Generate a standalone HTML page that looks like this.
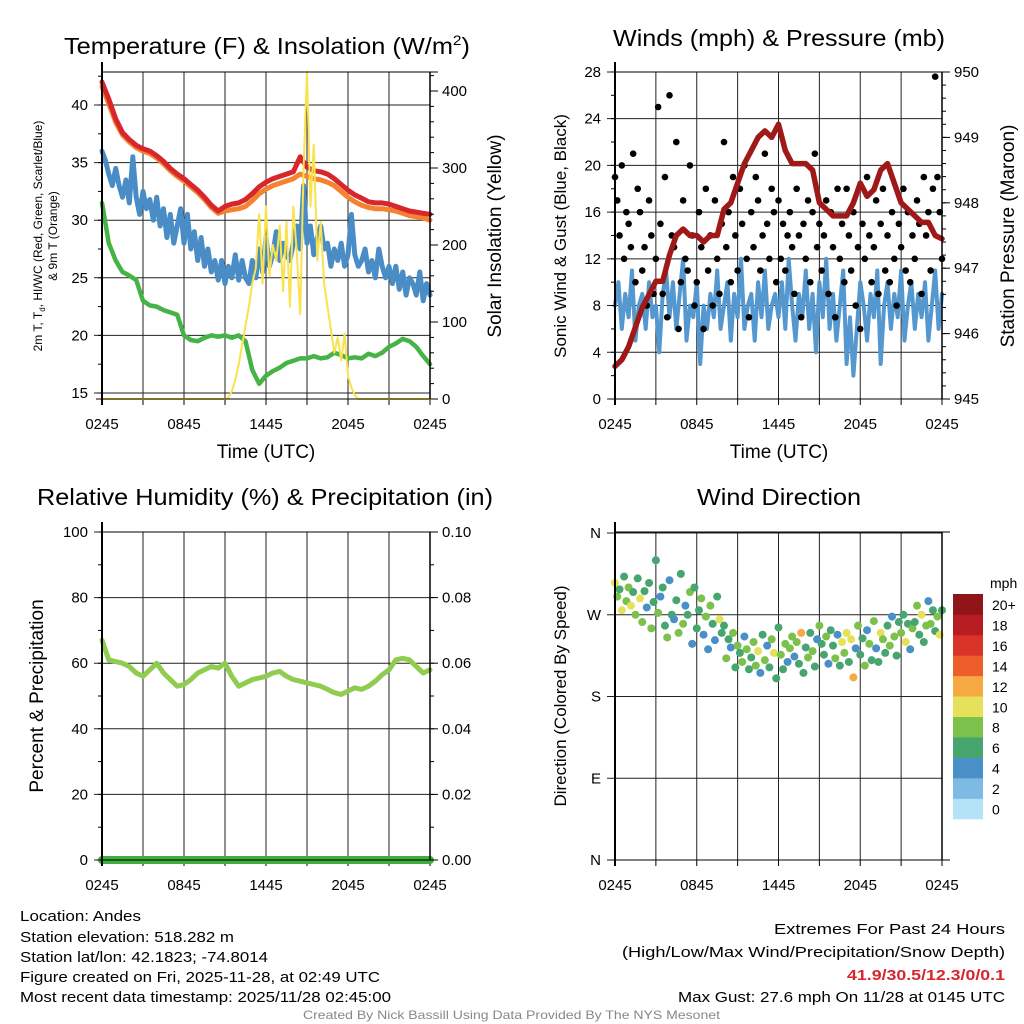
<!DOCTYPE html>
<html><head><meta charset="utf-8"><style>
html,body{margin:0;padding:0;background:#fff;}
svg{display:block;font-family:"Liberation Sans",Arial,sans-serif;}
</style></head><body>
<svg id="chart" width="1024" height="1024" viewBox="0 0 1024 1024" xmlns="http://www.w3.org/2000/svg">
<rect x="0" y="0" width="1024" height="1024" fill="#fff"/>
<g id="grids"></g>
<g id="series"></g>
<g id="axes"></g>
<g id="labels" fill="#000">
<text x="64" y="54" font-size="23" textLength="406" lengthAdjust="spacingAndGlyphs">Temperature (F) &amp; Insolation (W/m<tspan font-size="14" dy="-9">2</tspan><tspan dy="9">)</tspan></text>
<text x="613" y="46" font-size="23" textLength="332" lengthAdjust="spacingAndGlyphs">Winds (mph) &amp; Pressure (mb)</text>
<text x="37" y="505" font-size="23" textLength="456" lengthAdjust="spacingAndGlyphs">Relative Humidity (%) &amp; Precipitation (in)</text>
<text x="697" y="505" font-size="23" textLength="164" lengthAdjust="spacingAndGlyphs">Wind Direction</text>
<text x="266" y="458" font-size="19" text-anchor="middle">Time (UTC)</text>
<text x="779" y="458" font-size="19" text-anchor="middle">Time (UTC)</text>
<text font-size="12" text-anchor="middle" transform="translate(42,236) rotate(-90)">2m T, T<tspan font-size="8" dy="3">d</tspan><tspan dy="-3">, HI/WC (Red, Green, Scarlet/Blue)</tspan></text>
<text font-size="12" text-anchor="middle" transform="translate(57,236) rotate(-90)">&amp; 9m T (Orange)</text>
<text font-size="19" text-anchor="middle" transform="translate(501,236) rotate(-90)">Solar Insolation (Yellow)</text>
<text font-size="17" text-anchor="middle" transform="translate(566,236) rotate(-90)">Sonic Wind &amp; Gust (Blue, Black)</text>
<text font-size="19" text-anchor="middle" transform="translate(1014,236) rotate(-90)">Station Pressure (Maroon)</text>
<text font-size="19" text-anchor="middle" transform="translate(43,696) rotate(-90)">Percent &amp; Precipitation</text>
<text font-size="17" text-anchor="middle" transform="translate(566,696) rotate(-90)">Direction (Colored By Speed)</text>
<text x="990" y="588" font-size="14">mph</text>
<g font-size="15">
<text x="20" y="921" textLength="121" lengthAdjust="spacingAndGlyphs">Location: Andes</text>
<text x="20" y="942" textLength="214" lengthAdjust="spacingAndGlyphs">Station elevation: 518.282 m</text>
<text x="20" y="962" textLength="248" lengthAdjust="spacingAndGlyphs">Station lat/lon: 42.1823; -74.8014</text>
<text x="20" y="982" textLength="360" lengthAdjust="spacingAndGlyphs">Figure created on Fri, 2025-11-28, at 02:49 UTC</text>
<text x="20" y="1002" textLength="371" lengthAdjust="spacingAndGlyphs">Most recent data timestamp: 2025/11/28 02:45:00</text>
</g>
<g font-size="15">
<text x="774" y="934" textLength="231" lengthAdjust="spacingAndGlyphs">Extremes For Past 24 Hours</text>
<text x="622" y="957" textLength="383" lengthAdjust="spacingAndGlyphs">(High/Low/Max Wind/Precipitation/Snow Depth)</text>
<text x="847" y="980" textLength="158" lengthAdjust="spacingAndGlyphs" fill="#d7262c" font-weight="bold">41.9/30.5/12.3/0/0.1</text>
<text x="678" y="1002" textLength="327" lengthAdjust="spacingAndGlyphs">Max Gust: 27.6 mph On 11/28 at 0145 UTC</text>
</g>
<text x="303" y="1019" font-size="12" fill="#888" textLength="417" lengthAdjust="spacingAndGlyphs">Created By Nick Bassill Using Data Provided By The NYS Mesonet</text>
</g>
</svg>
<script>
// ---------- data ----------
const xTickLabels = ["0245","0845","1445","2045","0245"];
const tempTicks = [15,20,25,30,35,40];
const solarTicks = [0,100,200,300,400];
const windTicks = [0,4,8,12,16,20,24,28];
const pressTicks = [945,946,947,948,949,950];
const rhTicks = [0,20,40,60,80,100];
const precipTicks = ["0.00","0.02","0.04","0.06","0.08","0.10"];
const dirTicks = ["N","E","S","W","N"];
const speedBinLabels = ["0","2","4","6","8","10","12","14","16","18","20+"];
const speedBinColors = ["#b4e3f8","#7fbae4","#4a8fc5","#47a56f","#7bc14b","#e6e15a","#f6a843","#ee5e2a","#d93427","#b71c23","#8f1518"];

// half-hourly (49 values, 0..24 h)
const tempRed = [42,40.5,38.8,37.6,37.0,36.5,36.2,36.0,35.6,35.1,34.5,34.0,33.6,33.1,32.6,32.0,31.3,30.8,31.2,31.4,31.5,31.8,32.3,32.9,33.3,33.6,33.8,34.0,34.2,35.5,34.6,34.3,34.2,34.0,33.6,33.1,32.6,32.2,31.9,31.6,31.5,31.5,31.4,31.2,31.0,30.8,30.7,30.6,30.5];
const temp9m = [41.6,40.1,38.5,37.4,36.8,36.3,36.0,35.8,35.4,34.9,34.3,33.8,33.4,32.9,32.4,31.8,31.1,30.6,30.8,30.9,31.0,31.2,31.7,32.3,32.7,33.0,33.2,33.4,33.6,34.0,33.8,33.6,33.5,33.3,33.0,32.5,32.0,31.6,31.3,31.1,31.0,31.0,30.9,30.8,30.6,30.4,30.3,30.2,30.0];
const dewpoint = [31.5,28,26.5,25.5,25.2,24.8,23.0,22.6,22.5,22.2,22.0,21.8,20.0,19.6,19.5,19.8,20.0,19.9,20.0,19.8,20.0,19.5,17.0,15.8,16.5,16.9,17.2,17.6,17.8,18.0,18.0,18.2,18.0,18.1,18.5,18.3,18.0,18.1,18.0,18.4,18.2,18.5,19.0,19.3,19.7,19.5,19.0,18.2,17.5];
const rhValues = [67,61,60.5,60,59,57,56,58,60,57,55,53,53.5,55,57,58,59,58.5,60,56,53,54,55,55.5,56,57,57.5,56,55,54.5,54,53.5,53,52,51,50.5,51.5,52.5,52,53,54.5,56.5,58,61,61.5,61,59,57,58];
const pressure = [945.5,945.6,945.8,946.1,946.4,946.6,946.8,946.8,947.2,947.5,947.6,947.5,947.5,947.4,947.5,947.5,947.9,948.0,948.3,948.6,948.8,949.0,949.1,949.0,949.2,948.8,948.6,948.6,948.6,948.5,948.0,947.9,947.8,947.8,947.8,948.0,948.3,948.1,948.2,948.5,948.6,948.3,948.0,947.9,947.8,947.7,947.7,947.5,947.45];
// quarter-hourly (97 values)
const heatWindChill = [36.0,35.2,34.0,33.0,34.5,33.0,32.0,33.5,31.5,35.5,32.0,30.5,32.5,31.0,31.8,30.0,32.0,29.5,31.0,28.5,30.5,28.0,29.5,31.0,28.0,30.5,27.5,29.0,26.5,28.5,26.0,27.5,25.5,26.5,24.8,26.5,24.5,26.0,25.0,27.0,24.8,26.5,25.0,24.5,26.5,25.0,27.5,25.5,28.5,26.0,27.0,29.0,26.5,28.0,27.0,26.5,28.0,29.5,27.5,33.0,28.0,29.5,27.0,28.5,29.5,27.5,28.0,26.0,27.5,26.5,28.0,26.0,27.0,30.5,27.0,26.0,26.5,27.5,25.5,26.5,25.0,27.5,26.0,25.0,26.0,24.5,26.0,24.0,25.5,23.5,25.0,24.5,23.5,25.5,23.0,24.5,23.5];
const solar = [0,0,0,0,0,0,0,0,0,0,0,0,0,0,0,0,0,0,0,0,0,0,0,0,0,0,0,0,0,0,0,0,0,0,0,0,0,2,10,25,45,70,95,120,150,170,240,150,250,160,200,180,225,140,230,120,250,190,110,300,425,250,330,180,230,150,120,90,60,80,50,85,30,15,5,0,0,0,0,0,0,0,0,0,0,0,0,0,0,0,0,0,0,0,0,0,0];
const sonicWind = [8,10,6,9,7,11,5,8,9,6,10,7,8,4,9,11,7,10,6,9,12,5,8,7,10,3,8,6,9,7,11,6,8,10,5,9,7,12,6,8,9,5,10,7,11,6,8,9,7,10,6,12,8,5,9,7,11,6,9,4,10,7,12,6,9,5,8,11,3,7,2,6,10,8,5,9,7,11,3,8,10,6,9,7,11,5,8,10,6,9,7,10,5,8,11,6,9];
// 10-minute (145 values)
const gusts = [19,17,14,20,12,16,15,13,21,10,18,16,11,13,8,17,14,9,12,25,15,9,19,7,26,14,13,22,6,10,17,12,11,20,14,8,10,16,13,6,18,11,14,8,17,12,9,15,22,13,16,10,19,14,11,18,15,20,12,7,16,13,19,17,11,14,21,15,12,18,16,10,17,12,15,11,14,16,13,9,18,14,7,15,12,17,10,16,21,13,15,11,14,17,9,16,13,7,18,12,15,10,18,14,11,16,8,13,6,15,12,19,14,10,13,17,9,15,18,11,14,10,16,12,8,15,13,18,11,16,10,14,12,17,15,9,19,14,16,11,18,27.6,19,16,12];
const windDir = [305,290,298,275,312,285,300,280,295,270,310,288,262,296,278,305,255,284,330,272,290,300,258,245,308,270,265,286,250,315,260,280,270,295,238,300,255,275,288,248,268,232,280,260,242,290,265,250,
258,222,243,234,250,212,236,228,218,246,232,210,223,240,214,230,206,248,220,236,212,243,228,200,256,226,210,238,218,233,246,224,240,216,250,206,234,223,250,230,213,243,258,238,226,246,216,253,236,222,248,214,240,228,250,218,243,201,233,258,226,244,214,253,238,220,263,233,218,250,243,228,
258,236,268,246,225,262,250,270,240,260,232,255,262,280,248,270,240,258,285,260,275,252,268,248,275];
const windSpd = [10,7,6,9,5,8,7,10,6,8,5,9,7,6,4,6,8,5,6,7,3,6,5,7,4,6,3,5,7,6,8,4,6,7,3,5,6,5,7,3,8,4,7,6,4,6,9,5,5,7,6,3,8,6,7,6,8,4,7,6,5,8,7,9,4,6,7,3,6,8,10,5,6,7,5,8,3,7,8,4,7,6,12,5,6,8,5,7,6,3,7,5,6,8,4,6,5,7,3,6,9,8,10,6,9,12,4,7,6,5,8,3,7,6,7,4,6,10,8,5,6,8,3,7,5,6,7,5,9,6,4,8,6,7,5,10,6,7,4,8,6,5,7,9,6];

// ---------- helpers ----------
const NS = "http://www.w3.org/2000/svg";
function mk(tag, attrs, parent){ const e=document.createElementNS(NS,tag); for(const k in attrs) e.setAttribute(k,attrs[k]); if(parent) parent.appendChild(e); return e; }
const gGrid=document.getElementById('grids'), gSer=document.getElementById('series'), gAx=document.getElementById('axes');
function xScale(p,h){ return p.x0 + (p.x1-p.x0)*h/24; }
const P1={x0:102,x1:430,y0:72,y1:399}, P2={x0:615,x1:942,y0:72,y1:399}, P3={x0:102,x1:430,y0:532,y1:860}, P4={x0:615,x1:942,y0:532,y1:860};
const yTemp=v=>393-(v-15)*11.52, ySolar=v=>399-v*0.77;
const yWind=v=>399-v*11.68, yPress=v=>399-(v-945)*65.4;
const yRH=v=>860-v*3.28, yPrecip=v=>860-v*3280;
const yDir=d=>860-d*327/360;

function linePath(p, arr, yf){ const n=arr.length; let d=""; arr.forEach((v,i)=>{ d+=(i?"L":"M")+xScale(p,i*24/(n-1)).toFixed(1)+","+yf(v).toFixed(1); }); return d; }

function panelFrame(p, name, leftTicks, leftY, leftLabels, rightTicks, rightY, rightLabels, minorL, minorR){
  const g=mk('g',{},gGrid);
  
  
  for(let i=0;i<=8;i++){ const x=xScale(p,i*3); mk('line',{x1:x,y1:p.y0,x2:x,y2:p.y1,stroke:'#222','stroke-width':1},g); mk('line',{x1:x,y1:p.y1,x2:x,y2:p.y1+6,stroke:'#000','stroke-width':1},g);}  
  leftTicks.forEach(v=>{ const y=leftY(v); mk('line',{x1:p.x0-8,y1:y,x2:p.x1,y2:y,stroke:'#222','stroke-width':1},g); });
  const a=mk('g',{},gAx);
  
  
  mk('line',{x1:p.x0,y1:p.y0-10,x2:p.x0,y2:p.y1+6,stroke:'#000','stroke-width':2},a);
  mk('line',{x1:p.x1,y1:p.y0,x2:p.x1,y2:p.y1,stroke:'#000','stroke-width':1.5},a);
  mk('line',{x1:p.x0,y1:p.y0,x2:p.x1+8,y2:p.y0,stroke:'#000','stroke-width':1},a);
  mk('line',{x1:p.x0-6,y1:p.y1,x2:p.x1+8,y2:p.y1,stroke:'#000','stroke-width':1},a);
  minorL.forEach(v=>{ const y=leftY(v); mk('line',{x1:p.x0-4,y1:y,x2:p.x0,y2:y,stroke:'#000','stroke-width':1},a); });
  leftTicks.forEach((v,i)=>{ const t=mk('text',{x:p.x0-14,y:leftY(v)+5,'font-size':15,'text-anchor':'end'},a); t.textContent=leftLabels[i];
    
     });
  rightTicks.forEach((v,i)=>{ const y=rightY(v); mk('line',{x1:p.x1,y1:y,x2:p.x1+8,y2:y,stroke:'#000','stroke-width':1},a);
    const t=mk('text',{x:p.x1+12,y:y+5,'font-size':15},a); t.textContent=rightLabels[i];
    
     });
  minorR.forEach(v=>{ const y=rightY(v); mk('line',{x1:p.x1,y1:y,x2:p.x1+4,y2:y,stroke:'#000','stroke-width':1},a); });
  xTickLabels.forEach((l,i)=>{ const t=mk('text',{x:xScale(p,i*6),y:p.y1+30,'font-size':15,'text-anchor':'middle'},a); t.textContent=l;
    
     });
}
function range(a,b,s){ const r=[]; for(let v=a;v<=b+1e-9;v+=s) r.push(+v.toFixed(4)); return r; }

// ---------- panel 1 ----------
panelFrame(P1,'temp-panel',tempTicks,yTemp,tempTicks.map(String),solarTicks,ySolar,solarTicks.map(String),range(15,42.5,2.5),range(0,420,20));
function addLine(p,arr,yf,color,w,name){ const e=mk('path',{d:linePath(p,arr,yf),fill:'none',stroke:color,'stroke-width':w,'stroke-linejoin':'round','stroke-linecap':'round'},gSer);   return e; }
addLine(P1,temp9m,yTemp,'#f58231',5,'temp-9m-line');
addLine(P1,tempRed,yTemp,'#d7262c',5,'temp-2m-line');
addLine(P1,heatWindChill,yTemp,'#4a8dc6',5,'wind-chill-line');
addLine(P1,dewpoint,yTemp,'#46b346',4.5,'dewpoint-line');
addLine(P1,solar,ySolar,'#f9e24e',2,'solar-insolation-line');

// ---------- panel 2 ----------
panelFrame(P2,'wind-panel',windTicks,yWind,windTicks.map(String),pressTicks,yPress,pressTicks.map(String),range(0,28,2),range(945,950,0.2));
addLine(P2,sonicWind,yWind,'#5598d0',4,'sonic-wind-line');
const gG=mk('g',{},gSer);


gusts.forEach((v,i)=>{ const c=mk('circle',{cx:xScale(P2,i*24/(gusts.length-1)),cy:yWind(v),r:3.3,fill:'#000'},gG);
  
   });
addLine(P2,pressure,yPress,'#a01919',5.5,'pressure-line');

// ---------- panel 3 ----------
panelFrame(P3,'rh-panel',rhTicks,yRH,rhTicks.map(String),precipTicks.map(Number),yPrecip,precipTicks,range(0,100,10),range(0,0.1,0.01));
addLine(P3,rhValues,yRH,'#8fcc50',5,'relative-humidity-line');
const pr=mk('line',{x1:P3.x0,y1:yPrecip(0),x2:P3.x1,y2:yPrecip(0),stroke:'#3fae3f','stroke-width':8,'stroke-linecap':'round'},gSer);



// ---------- panel 4 ----------
panelFrame(P4,'dir-panel',[0,90,180,270,360],yDir,dirTicks,[],yDir,[],[],[]);
function speedColor(s){ let i=Math.round(s/2); if(i>10) i=10; if(i<0) i=0; return speedBinColors[i]; }
const gD=mk('g',{},gSer);


windDir.forEach((d,i)=>{ const c=mk('circle',{cx:xScale(P4,i*24/(windDir.length-1)),cy:yDir(d),r:4,fill:speedColor(windSpd[i])},gD);
  
   });
// colorbar
const cb=mk('g',{},gAx);


const cbTop=594, cbH=225/11;
speedBinColors.forEach((c,i)=>{ const k=10-i; mk('rect',{x:953,y:cbTop+k*cbH,width:30,height:cbH+0.3,fill:c},cb);
  const t=mk('text',{x:992,y:cbTop+k*cbH+16,'font-size':14},cb); t.textContent=speedBinLabels[i];
  
   });
</script>
</body></html>
